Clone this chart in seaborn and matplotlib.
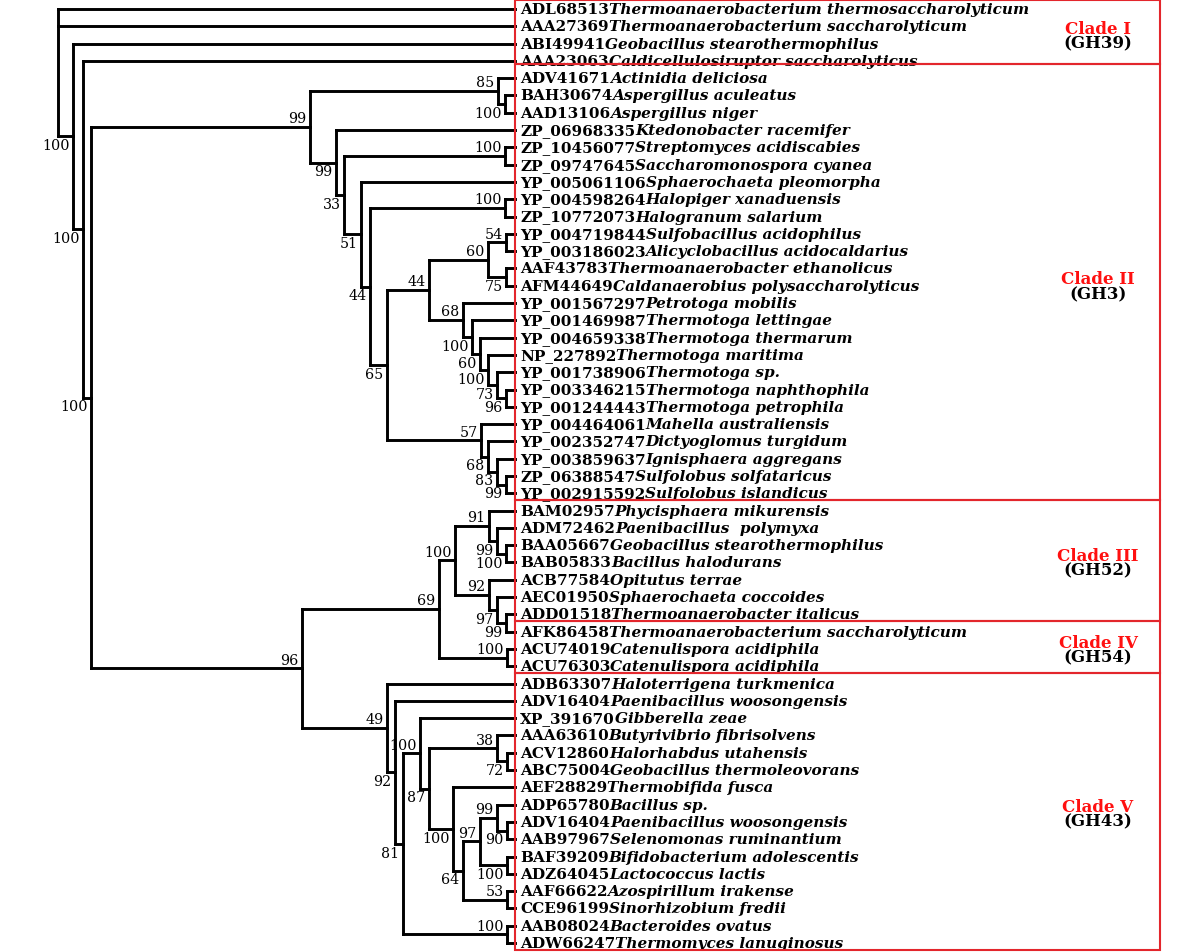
import matplotlib
matplotlib.use("Agg")
import matplotlib.pyplot as plt
from matplotlib.patches import Rectangle
import seaborn as sns
import pandas as pd

# Leaf labels, top to bottom
accessions = [
    "ADL68513", "AAA27369", "ABI49941", "AAA23063",
    "ADV41671", "BAH30674", "AAD13106", "ZP_06968335", "ZP_10456077",
    "ZP_09747645", "YP_005061106", "YP_004598264", "ZP_10772073",
    "YP_004719844", "YP_003186023", "AAF43783", "AFM44649", "YP_001567297",
    "YP_001469987", "YP_004659338", "NP_227892", "YP_001738906",
    "YP_003346215", "YP_001244443", "YP_004464061", "YP_002352747",
    "YP_003859637", "ZP_06388547", "YP_002915592",
    "BAM02957", "ADM72462", "BAA05667", "BAB05833", "ACB77584", "AEC01950",
    "ADD01518",
    "AFK86458", "ACU74019", "ACU76303",
    "ADB63307", "ADV16404", "XP_391670", "AAA63610", "ACV12860", "ABC75004",
    "AEF28829", "ADP65780", "ADV16404", "AAB97967", "BAF39209", "ADZ64045",
    "AAF66622", "CCE96199", "AAB08024", "ADW66247",
]
species = [
    "Thermoanaerobacterium thermosaccharolyticum",
    "Thermoanaerobacterium saccharolyticum",
    "Geobacillus stearothermophilus",
    "Caldicellulosiruptor saccharolyticus",
    "Actinidia deliciosa", "Aspergillus aculeatus", "Aspergillus niger",
    "Ktedonobacter racemifer", "Streptomyces acidiscabies",
    "Saccharomonospora cyanea", "Sphaerochaeta pleomorpha",
    "Halopiger xanaduensis", "Halogranum salarium", "Sulfobacillus acidophilus",
    "Alicyclobacillus acidocaldarius", "Thermoanaerobacter ethanolicus",
    "Caldanaerobius polysaccharolyticus", "Petrotoga mobilis",
    "Thermotoga lettingae", "Thermotoga thermarum", "Thermotoga maritima",
    "Thermotoga sp.", "Thermotoga naphthophila", "Thermotoga petrophila",
    "Mahella australiensis", "Dictyoglomus turgidum", "Ignisphaera aggregans",
    "Sulfolobus solfataricus", "Sulfolobus islandicus",
    "Phycisphaera mikurensis", "Paenibacillus  polymyxa",
    "Geobacillus stearothermophilus", "Bacillus halodurans", "Opitutus terrae",
    "Sphaerochaeta coccoides", "Thermoanaerobacter italicus",
    "Thermoanaerobacterium saccharolyticum", "Catenulispora acidiphila",
    "Catenulispora acidiphila",
    "Haloterrigena turkmenica", "Paenibacillus woosongensis",
    "Gibberella zeae", "Butyrivibrio fibrisolvens", "Halorhabdus utahensis",
    "Geobacillus thermoleovorans", "Thermobifida fusca", "Bacillus sp.",
    "Paenibacillus woosongensis", "Selenomonas ruminantium",
    "Bifidobacterium adolescentis", "Lactococcus lactis",
    "Azospirillum irakense", "Sinorhizobium fredii", "Bacteroides ovatus",
    "Thermomyces lanuginosus",
]

# clades (first / last leaf row)
clade_names = ["Clade I", "Clade II", "Clade III", "Clade IV", "Clade V"]
clade_families = ["(GH39)", "(GH3)", "(GH52)", "(GH54)", "(GH43)"]
clade_first = [0, 4, 29, 36, 39]
clade_last = [3, 28, 35, 38, 54]

# tree: (node depth, bootstrap, children); ints are leaf rows
tip_depth = 515
tree = (58, None, [0, 1,
  (73, 100, [2,
    (83, 100, [3,
      (91, 100, [
        (310, 99, [
          (498, 85, [4, (505, 100, [5, 6])]),
          (336, 99, [7,
            (344, 33, [
              (505, 100, [8, 9]),
              (361, 51, [10,
                (370, 44, [
                  (505, 100, [11, 12]),
                  (387, 65, [
                    (429, 44, [
                      (488, 60, [(506, 54, [13, 14]), (506, 75, [15, 16])]),
                      (463, 68, [17,
                        (472, 100, [18,
                          (480, 60, [19,
                            (488, 100, [20,
                              (497, 73, [21, (506, 96, [22, 23])])])])])])]),
                    (481, 57, [24,
                      (488, 68, [25,
                        (497, 83, [26, (506, 99, [27, 28])])])])])])])])])]),
        (302, 96, [
          (439, 69, [
            (455, 100, [
              (489, 91, [29, (497, 99, [30, (506, 100, [31, 32])])]),
              (489, 92, [33, (497, 97, [34, (506, 99, [35, 36])])])]),
            (507, 100, [37, 38])]),
          (387, 49, [39,
            (395, 92, [40,
              (403, 81, [
                (420, 100, [41,
                  (429, 87, [
                    (497, 38, [42, (507, 72, [43, 44])]),
                    (453, 100, [45,
                      (463, 64, [
                        (480, 97, [
                          (497, 99, [46, (507, 90, [47, 48])]),
                          (507, 100, [49, 50])]),
                        (507, 53, [51, 52])])])])]),
                (507, 100, [53, 54])])])])])])])])])

# --- walk the tree, collect segments and support labels
segs = []
labels = []


def walk(node):
    if isinstance(node, int):
        return tip_depth, node
    depth, support, kids = node
    pos = [walk(k) for k in kids]
    segs.append([(depth, pos[0][1]), (depth, pos[-1][1])])
    for i, (k, (kx, ky)) in enumerate(zip(kids, pos)):
        segs.append([(depth, ky), (kx, ky)])
        if not isinstance(k, int) and k[1] is not None:
            above = (i == 0) or (kx - depth > 30)
            labels.append((kx, ky, k[1], above))
    return depth, (pos[0][1] + pos[-1][1]) / 2


walk(tree)

rows = []
for n, seg in enumerate(segs):
    for x, y in seg:
        rows.append({"seg": n, "x": x, "y": y})
df = pd.DataFrame(rows)

sns.set_theme(style="white")
plt.rcParams["font.family"] = ["DejaVu Serif"]
plt.rcParams["text.color"] = "black"

fig = plt.figure(figsize=(12, 9.53), dpi=100)
ax = fig.add_axes([0, 0, 1, 1])

sns.lineplot(data=df, x="x", y="y", units="seg", estimator=None, sort=False,
             color="black", linewidth=2.1, solid_capstyle="projecting", ax=ax)

ax.set_xlim(0, 1200)
ax.set_ylim(54.52, -0.578)
ax.axis("off")

# bootstrap values
for x, y, s, above in labels:
    ax.annotate(str(s), xy=(x, y), xytext=(-2.5, 1.2 if above else -1.2),
                textcoords="offset points", ha="right",
                va="bottom" if above else "top", fontsize=10.3)

# leaf names: accession upright bold, species bold italic
for i, (acc, sp) in enumerate(zip(accessions, species)):
    t = ax.text(tip_depth + 5, i, acc, fontsize=11, fontweight="bold",
                va="center", ha="left")
    ax.annotate(sp, xy=(1, 0), xycoords=t, va="bottom", ha="left",
                fontsize=11, fontweight="bold", fontstyle="italic")

# clade boxes and names
red = "#e3262c"
top = -0.52
for name, fam, a, b in zip(clade_names, clade_families, clade_first, clade_last):
    bottom = b + 0.4 if b < 54 else b + 0.42
    if a == 0:
        bottom = b + 0.2
    ax.add_patch(Rectangle((tip_depth, top), 1160 - tip_depth, bottom - top,
                           fill=False, edgecolor=red, linewidth=1.5, zorder=3))
    mid = (a + b) / 2
    ax.text(1098, mid - 0.4, name, color="#ff1010", fontsize=12,
            fontweight="bold", ha="center", va="center")
    ax.text(1098, mid + 0.45, fam, color="black", fontsize=12,
            fontweight="bold", ha="center", va="center")
    top = bottom

fig.savefig("out.png", dpi=100)
